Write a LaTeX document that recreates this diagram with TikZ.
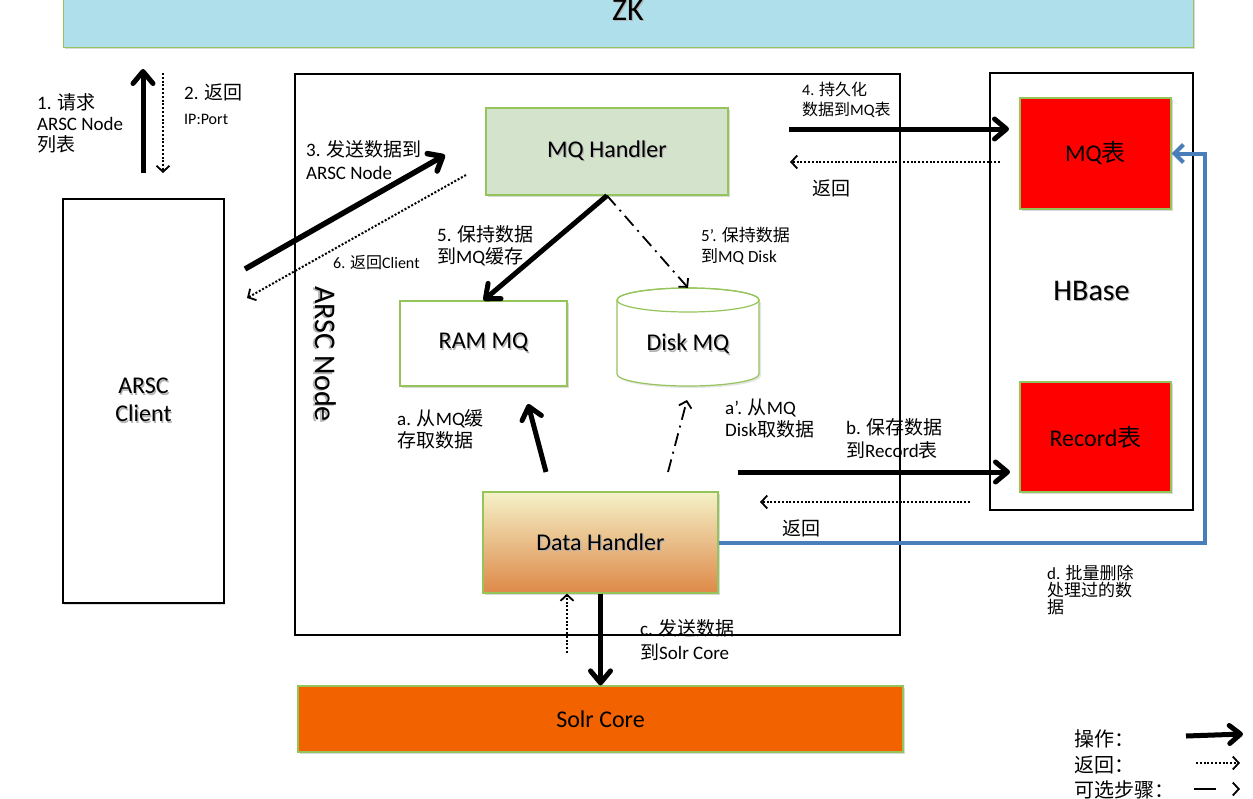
\documentclass[tikz,border=0pt]{standalone}
\usepackage{fontspec}
\setmainfont{Carlito}
\newfontfamily\cjk{Noto Sans CJK SC}
\usetikzlibrary{arrows.meta,shadows}
\newcommand\zh[1]{{\cjk #1}}
\newcommand\fsz[2]{\fontsize{#1}{#2}\selectfont}
\newcommand\shd[1]{\leavevmode\rlap{\hspace{1.2pt}\raisebox{-1.5pt}{\textcolor{black!30}{#1}}}#1}
\definecolor{zkblue}{HTML}{AEDFEA}
\definecolor{gborder}{HTML}{94C45A}
\definecolor{mqgreen}{HTML}{D4E3CB}
\definecolor{solr}{HTML}{F26300}
\definecolor{dhtop}{HTML}{F4F1C8}
\definecolor{dhbot}{HTML}{DE8948}
\definecolor{blueline}{HTML}{4A7EBB}
\definecolor{tred}{HTML}{FF0000}
\begin{document}
\begin{tikzpicture}[x=1pt,y=-1pt,
  gbox/.style={draw=gborder, line width=1.2pt, inner sep=0pt,
     drop shadow={opacity=0.3, shadow xshift=1.5pt, shadow yshift=-2pt}},
  kbox/.style={draw=black, line width=1.2pt, inner sep=0pt},
  boxtext/.style={font=\fsz{24}{28}, align=center},
  op/.style={line width=5pt, -{Straight Barb[length=12pt,width=20pt,round]}},
  ret/.style={line width=2pt, dash pattern=on 2pt off 1.8pt, -{Straight Barb[length=6pt,width=13pt,line width=1.8pt]}},
  opt/.style={line width=1.8pt, dash pattern=on 13pt off 6pt on 2pt off 6pt, -{Straight Barb[length=6pt,width=13pt,line width=1.8pt]}},
  blu/.style={line width=4pt, draw=blueline, -{Straight Barb[length=9pt,width=18pt]}},
  lab/.style={anchor=west, align=left, inner sep=0pt, font=\fsz{19}{22}},
  slab/.style={anchor=west, align=left, inner sep=0pt, font=\fsz{16}{20}},
  leg/.style={anchor=west, inner sep=0pt, font=\fsz{20}{24}}
]
\useasboundingbox (0,0) rectangle (1253,798);
\clip (0,0) rectangle (1253,798);

% ---- boxes ----
\node[gbox, fill=zkblue, minimum width=1130pt, minimum height=110pt, anchor=south west] (zk) at (63,48) {};
\node[anchor=base, inner sep=0pt, font=\fsz{32}{36}] (zklabel) at (628,20) {\shd{ZK}};

\node[kbox, fill=white, minimum width=161pt, minimum height=404pt, boxtext, drop shadow={opacity=0.25, shadow xshift=1pt, shadow yshift=-1.5pt}] (client) at (143.5,401) {\shd{ARSC}\\\shd{Client}};

\node[kbox, minimum width=605pt, minimum height=561pt] (arscnode) at (597.5,354.5) {};
\node[rotate=-90, inner sep=0pt, font=\fsz{30}{34}] (arscnodelabel) at (325,354) {\shd{ARSC Node}};

\node[kbox, minimum width=203pt, minimum height=437pt, font=\fsz{30}{34}] (hbase) at (1091.5,291.5) {\shd{HBase}};
\node[gbox, fill=tred, minimum width=151pt, minimum height=111pt, boxtext] (mqt) at (1095.5,153.5) {MQ\zh{表}};
\node[gbox, fill=tred, minimum width=151pt, minimum height=110pt, boxtext] (rec) at (1095.5,437) {Record\zh{表}};

\node[gbox, fill=mqgreen, minimum width=242pt, minimum height=87pt, boxtext] (mqh) at (607,151.5) {\shd{MQ Handler}};
\node[gbox, fill=white, minimum width=167pt, minimum height=85pt, boxtext] (ram) at (483.5,343.5) {\shd{RAM MQ}};

% Disk MQ cylinder
\fill[black, opacity=0.1] (619,302) -- (619,376) arc[start angle=180,end angle=360,x radius=71pt,y radius=12pt] -- (761,302) -- cycle;
\filldraw[draw=gborder, fill=white, line width=1.2pt] (617,300) -- (617,374) arc[start angle=180,end angle=360,x radius=71pt,y radius=12pt] -- (759,300) arc[start angle=0,end angle=180,x radius=71pt,y radius=12pt] -- cycle;
\draw[gborder, line width=1.2pt] (688,300) ellipse[x radius=71pt, y radius=12pt];
\node[minimum width=142pt, minimum height=98pt, inner sep=0pt] (disk) at (688,337) {};
\node[boxtext, inner sep=0pt] (disklabel) at (688,345) {\shd{Disk MQ}};

\node[gbox, top color=dhtop, bottom color=dhbot, minimum width=235pt, minimum height=101pt, boxtext] (dh) at (600.5,542.5) {\shd{Data Handler}};
\node[gbox, fill=solr, minimum width=605pt, minimum height=66pt, boxtext] (solr) at (600.5,719) {Solr Core};

% ---- coordinates for free ends ----
\coordinate (a1s) at (143,173);  \coordinate (a1e) at (143,69);
\coordinate (a2s) at (163,73);   \coordinate (a2e) at (163,173);
\coordinate (a3s) at (245,269);  \coordinate (a3e) at (445,155);
\coordinate (a6s) at (466,175);  \coordinate (a6e) at (247,298);
\coordinate (a4s) at (789,129);  \coordinate (a4e) at (1009,129);
\coordinate (r4s) at (1000,162); \coordinate (r4e) at (790,162);
\coordinate (aas) at (546,472);  \coordinate (aae) at (528,404);
\coordinate (aps) at (668,472);  \coordinate (ape) at (687,400);
\coordinate (abs) at (738,472);  \coordinate (abe) at (1010,472);
\coordinate (rbs) at (970,502);  \coordinate (rbe) at (760,502);
\coordinate (rcs) at (567,653);
\coordinate (bx) at (1205,0);

% ---- connectors ----
\draw[op] (a1s) -- (a1e);
\draw[ret] (a2s) -- (a2e);
\draw[op, line width=5.5pt] (a3s) -- (a3e);
\draw[ret] (a6s) -- (a6e);
\draw[op] (mqh.south) -- (ram.north);
\draw[opt] (mqh.south) -- (disk.north);
\draw[op] (a4s) -- (a4e);
\draw[ret] (r4s) -- (r4e);
\draw[op] (aas) -- (aae);
\draw[opt] (aps) -- (ape);
\draw[op] (abs) -- (abe);
\draw[ret] (rbs) -- (rbe);
\draw[op] (dh.south) -- (solr.north);
\draw[ret] (rcs) -- (rcs |- dh.south);
\draw[blu] (dh.east) -- (dh.east -| bx) -- (bx |- mqt.east) -- (mqt.east);

% ---- labels ----
\node[lab, font=\fsz{19}{21}] (l1) at (37,123) {1. \zh{请求}\\ARSC Node\\\zh{列表}};
\node[lab] (l2) at (184,92) {2. \zh{返回}};
\node[slab] (l2b) at (184,119) {IP:Port};
\node[lab, font=\fsz{19}{23}] (l3) at (306,160.5) {3. \zh{发送数据到}\\ARSC Node};
\node[slab] (l6) at (333,263) {6. \zh{返回}Client};
\node[lab] (l5) at (437,246) {5. \zh{保持数据}\\\zh{到}MQ\zh{缓存}};
\node[lab, font=\fsz{17}{21}] (l5p) at (701,245.5) {5’. \zh{保持数据}\\\zh{到}MQ Disk};
\node[slab] (l4) at (802,100) {4. \zh{持久化}\\\zh{数据到}MQ\zh{表}};
\node[lab] (r1) at (812,188) {\zh{返回}};
\node[lab] (la) at (397,429) {a. \zh{从}MQ\zh{缓}\\\zh{存取数据}};
\node[lab] (lap) at (725,419) {a’. \zh{从}MQ\\Disk\zh{取数据}};
\node[lab, font=\fsz{19}{23}] (lb) at (846,439) {b. \zh{保存数据}\\\zh{到}Record\zh{表}};
\node[lab] (r2) at (782,528) {\zh{返回}};
\node[lab, font=\fsz{17}{17}] (ld) at (1047,590) {d. \zh{批量删除}\\\zh{处理过的数}\\\zh{据}};
\node[lab, font=\fsz{19}{24}] (lc) at (640,640) {c. \zh{发送数据}\\\zh{到}Solr Core};

% ---- legend ----
\node[leg] (g1) at (1074,739) {\zh{操作：}};
\node[leg] (g2) at (1074,765) {\zh{返回：}};
\node[leg] (g3) at (1074,790) {\zh{可选步骤：}};
\coordinate (g1s) at (1186,736); \coordinate (g1e) at (1243,734);
\coordinate (g2s) at (1196,763); \coordinate (g2e) at (1240,763);
\coordinate (g3s) at (1194,789); \coordinate (g3e) at (1240,789);
\draw[line width=5pt, -{Straight Barb[length=11pt,width=18pt,round]}] (g1s) -- (g1e);
\draw[ret] (g2s) -- (g2e);
\draw[line width=1.8pt, dash pattern=on 22pt off 40pt, -{Straight Barb[length=6pt,width=13pt,line width=1.8pt]}] (g3s) -- (g3e);
\end{tikzpicture}
\end{document}
